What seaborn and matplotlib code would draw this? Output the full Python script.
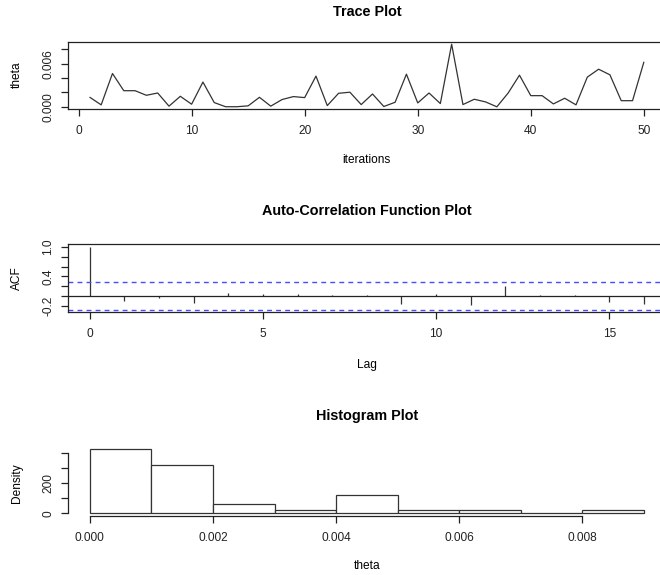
import numpy as np
import pandas as pd
import matplotlib
matplotlib.use("Agg")
import matplotlib.pyplot as plt
import seaborn as sns

# ---- data ----
iterations = list(range(1, 51))
theta = [0.00133, 0.00028, 0.00464, 0.00225, 0.00225, 0.00161, 0.00193, 0.00010, 0.00147, 0.00037,
         0.00345, 0.00060, 0.00002, 0.00002, 0.00014, 0.00133, 0.00010, 0.00102, 0.00143, 0.00129,
         0.00428, 0.00018, 0.00189, 0.00204, 0.00032, 0.00179, 0.00005, 0.00064, 0.00455, 0.00055,
         0.00193, 0.00046, 0.00872, 0.00032, 0.00106, 0.00069, 0.00001, 0.00193, 0.00441, 0.00156,
         0.00156, 0.00041, 0.00120, 0.00028, 0.00414, 0.00524, 0.00446, 0.00086, 0.00086, 0.00622]
lags = list(range(0, 17))
acf_vals = [1.0, -0.10, -0.03, -0.13, 0.07, 0.04, 0.05, 0.03, 0.03, -0.155, 0.04, -0.18, 0.21,
            0.03, 0.02, -0.11, -0.155]
conf_limit = 0.277
hist_breaks = [0.000, 0.001, 0.002, 0.003, 0.004, 0.005, 0.006, 0.007, 0.008, 0.009]

trace_xticks = [0, 10, 20, 30, 40, 50]
trace_yticks = [0.000, 0.002, 0.004, 0.006, 0.008]
trace_ylabels = ["0.000", "", "", "0.006", ""]
acf_xticks = [0, 5, 10, 15]
acf_yticks = [-0.2, 0.0, 0.2, 0.4, 0.6, 0.8, 1.0]
acf_ylabels = ["-0.2", "", "", "0.4", "", "", "1.0"]
hist_xticks = [0.000, 0.002, 0.004, 0.006, 0.008]
hist_xlabels = ["0.000", "0.002", "0.004", "0.006", "0.008"]
hist_yticks = [0, 100, 200, 300, 400]
hist_ylabels = ["0", "", "200", "", ""]

sns.set_style("ticks")
plt.rcParams["font.family"] = ["Liberation Sans", "DejaVu Sans"]

W, H = 660, 575
fig = plt.figure(figsize=(W / 100, H / 100), dpi=100)

INK = "#222222"
TICK_FS = 8.6
TITLE_FS = 10.4

def px_axes(left, top, right, bottom):
    return fig.add_axes([left / W, 1 - bottom / H, (right - left) / W, (bottom - top) / H])

def style(ax, box=True):
    for s in ax.spines.values():
        s.set_color(INK)
        s.set_linewidth(0.9)
    if not box:
        ax.spines["top"].set_visible(False)
        ax.spines["right"].set_visible(False)
    ax.tick_params(axis="both", direction="out", length=5.2, width=0.9, color=INK,
                   labelsize=TICK_FS, labelcolor=INK)
    ax.tick_params(axis="x", pad=6.3)
    ax.tick_params(axis="y", pad=4.5, labelrotation=90)
    for lab in ax.get_yticklabels():
        lab.set_va("center")
    ax.set_xlabel("")
    ax.set_ylabel("")

def r_range(vals):
    lo, hi = min(vals), max(vals)
    pad = 0.04 * (hi - lo)
    return lo - pad, hi + pad

XR = 666.0
XC = (67.7 + XR) / 2 / W

# ---- Trace plot ----
ax1 = px_axes(67.7, 41.7, XR, 109.3)
df = pd.DataFrame({"iteration": iterations, "theta": theta})
sns.lineplot(data=df, x="iteration", y="theta", ax=ax1, color="#333333", linewidth=0.9)
ax1.set_xlim(*r_range(iterations))
ax1.set_ylim(*r_range(theta))
ax1.set_xticks(trace_xticks)
ax1.set_yticks(trace_yticks)
ax1.set_yticklabels(trace_ylabels)
style(ax1)

# ---- ACF plot ----
ax2 = px_axes(67.7, 244.3, XR, 312.3)
ax2.vlines(lags, 0, acf_vals, color="#333333", linewidth=0.9)
ax2.axhline(0, color=INK, linewidth=0.9)
for c in (conf_limit, -conf_limit):
    ax2.axhline(c, color="#4a4aff", linewidth=1.0, linestyle=(0, (3.5, 3)))
ax2.set_xlim(*r_range(lags))
ax2.set_ylim(*r_range(acf_vals + [conf_limit, -conf_limit]))
ax2.set_xticks(acf_xticks)
ax2.set_yticks(acf_yticks)
ax2.set_yticklabels(acf_ylabels)
style(ax2)

# ---- Histogram ----
ax3 = px_axes(67.7, 446.9, XR, 516.0)
sns.histplot(x=theta, bins=hist_breaks, stat="density", ax=ax3,
             facecolor="white", edgecolor="#333333", linewidth=0.9, alpha=1)
counts, _ = np.histogram(theta, bins=hist_breaks)
dens = counts / (len(theta) * 0.001)
ax3.set_xlim(*r_range(hist_breaks))
ax3.set_ylim(*r_range([0] + list(dens)))
ax3.set_xticks(hist_xticks)
ax3.set_xticklabels(hist_xlabels)
ax3.set_yticks(hist_yticks)
ax3.set_yticklabels(hist_ylabels)
style(ax3, box=False)
ax3.spines["left"].set_bounds(0, 400)
ax3.spines["bottom"].set_bounds(0, 0.008)

# ---- titles and axis labels ----
def ftext(x_px_frac, y_px, s, **kw):
    fig.text(x_px_frac, 1 - y_px / H, s, ha="center", va="center", color="black", **kw)

ftext(XC, 12, "Trace Plot", fontsize=TITLE_FS, fontweight="bold")
ftext(XC, 211, "Auto-Correlation Function Plot", fontsize=TITLE_FS, fontweight="bold")
ftext(XC, 416, "Histogram Plot", fontsize=TITLE_FS, fontweight="bold")
ftext(XC, 160, "iterations", fontsize=TICK_FS)
ftext(XC, 365, "Lag", fontsize=TICK_FS)
ftext(XC, 566, "theta", fontsize=TICK_FS)
ftext(16.7 / W, 75, "theta", fontsize=TICK_FS, rotation=90)
ftext(16.7 / W, 278, "ACF", fontsize=TICK_FS, rotation=90)
ftext(16.7 / W, 483, "Density", fontsize=TICK_FS, rotation=90)

fig.savefig("out.png", dpi=100)
